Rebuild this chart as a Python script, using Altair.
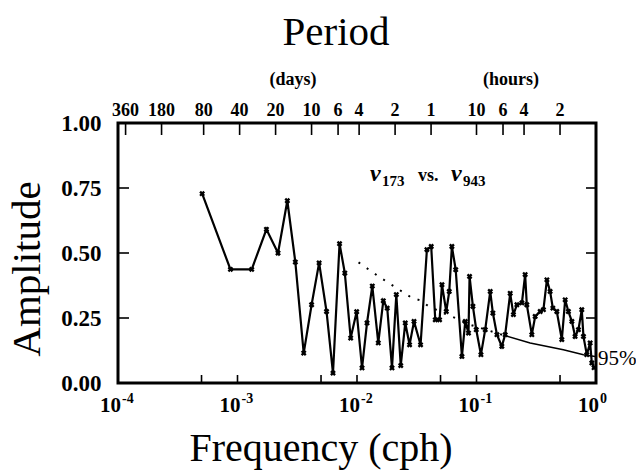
import altair as alt
import pandas as pd

# ---------------- data ----------------
freq = [5.06e-4, 8.73e-4, 1.315e-3, 1.746e-3, 2.183e-3, 2.612e-3, 3.048e-3, 3.581e-3,
        4.169e-3, 4.819e-3, 5.559e-3, 6.295e-3, 7.145e-3, 7.907e-3, 8.851e-3, 9.931e-3,
        0.01102, 0.01213, 0.01343, 0.01507, 0.01660, 0.01791, 0.01963, 0.02133,
        0.02323, 0.02535, 0.02754, 0.02999, 0.03404, 0.03846, 0.04178, 0.04519,
        0.04909, 0.05140, 0.05585, 0.05916, 0.06223, 0.06699, 0.07551, 0.08054,
        0.08570, 0.08750, 0.09333, 0.09954, 0.1089, 0.1183, 0.1303, 0.1371,
        0.1483, 0.1629, 0.1738, 0.1914, 0.2037, 0.2178, 0.2399, 0.2553,
        0.2636, 0.2904, 0.3097, 0.3412, 0.3631, 0.3882, 0.4130, 0.4355,
        0.4699, 0.5176, 0.5521, 0.5875, 0.6281, 0.6683, 0.7129, 0.7603,
        0.7852, 0.8375, 0.8933, 0.9226, 0.9638]
amp = [0.728, 0.437, 0.437, 0.591, 0.500, 0.701, 0.465, 0.115,
       0.301, 0.462, 0.275, 0.038, 0.536, 0.423, 0.173, 0.274,
       0.058, 0.231, 0.373, 0.154, 0.316, 0.288, 0.058, 0.340,
       0.067, 0.231, 0.147, 0.237, 0.147, 0.513, 0.525, 0.243,
       0.243, 0.378, 0.275, 0.352, 0.525, 0.436, 0.102, 0.237,
       0.192, 0.410, 0.295, 0.205, 0.109, 0.205, 0.352, 0.269,
       0.186, 0.141, 0.186, 0.345, 0.263, 0.301, 0.308, 0.417,
       0.301, 0.186, 0.256, 0.275, 0.282, 0.397, 0.352, 0.288,
       0.275, 0.167, 0.320, 0.275, 0.237, 0.179, 0.205, 0.282,
       0.179, 0.109, 0.154, 0.077, 0.059]

# 95% significance level
sig_freq_dotted = [0.01030, 0.01517, 0.01837, 0.02377, 0.02884, 0.03381, 0.03972,
                   0.05649, 0.06637, 0.08851, 0.1074, 0.1738]
sig_amp_dotted = [0.464, 0.410, 0.385, 0.352, 0.327, 0.318, 0.295,
                  0.263, 0.250, 0.224, 0.212, 0.182]
sig_freq_solid = [0.1738, 0.2812, 0.5333, 0.7852, 0.9840]
sig_amp_solid = [0.182, 0.154, 0.128, 0.109, 0.102]

# top (period) axis
top_period = [360, 180, 80, 40, 20, 10, 6, 4, 2, 1, 10, 6, 4, 2]
top_hours_per_unit = [24, 24, 24, 24, 24, 24, 24, 24, 24, 24, 1, 1, 1, 1]
top_label = ["360", "180", "80", "40", "20", "10", "6", "4", "2", "1", "10", "6", "4", "2"]

# bottom axis
bottom_minor = [5e-4, 1e-3, 5e-3, 1e-2, 5e-2, 1e-1, 5e-1]
decade_freq = [1e-4, 1e-3, 1e-2, 1e-1, 1.0]
decade_exp = ["-4", "-3", "-2", "-1", "0"]

y_inner_ticks = [0.25, 0.5, 0.75]
y_labels = [0, 0.25, 0.5, 0.75, 1.0]

# ---------------- layout ----------------
W, H = 478, 260
FONT = "Liberation Serif"

xs = alt.Scale(type="log", domain=[1e-4, 1], nice=False)
ys = alt.Scale(domain=[0, 1], nice=False)
X = alt.X("f:Q", scale=xs, axis=None)
yaxis = alt.Axis(values=y_labels, format=".2f", ticks=False, domain=False, grid=False,
                 labelFont=FONT, labelFontSize=23, labelFontWeight="bold",
                 labelPadding=17, labelColor="black", title=None)
Y = alt.Y("a:Q", scale=ys, axis=yaxis)

df = pd.DataFrame({"f": freq, "a": amp})
line = alt.Chart(df).mark_line(color="black", strokeWidth=2.2).encode(x=X, y=Y)
pts = alt.Chart(df).mark_point(shape="cross", angle=45, size=34, filled=True,
                               color="black", opacity=1).encode(x=X, y=Y)

sig_d = pd.DataFrame({"f": sig_freq_dotted, "a": sig_amp_dotted})
sig_s = pd.DataFrame({"f": sig_freq_solid, "a": sig_amp_solid})
sig_dot = alt.Chart(sig_d).mark_line(color="black", strokeWidth=2,
                                     strokeDash=[2, 8]).encode(x=X, y=Y)
sig_sol = alt.Chart(sig_s).mark_line(color="black", strokeWidth=1.5).encode(x=X, y=Y)

yt = pd.DataFrame({"a": y_inner_ticks})
left_ticks = alt.Chart(yt).mark_rule(color="black", strokeWidth=1.6).encode(
    y=Y, x=alt.value(0), x2=alt.value(11))
right_ticks = alt.Chart(yt).mark_rule(color="black", strokeWidth=1.6).encode(
    y=Y, x=alt.value(W - 10), x2=alt.value(W))

top_df = pd.DataFrame({"p": top_period, "u": top_hours_per_unit, "lab": top_label})
top_df["f"] = 1.0 / (top_df["p"] * top_df["u"])
top_ticks = alt.Chart(top_df).mark_rule(color="black", strokeWidth=1.6).encode(
    x=X, y=alt.value(0), y2=alt.value(12))
top_text = alt.Chart(top_df).mark_text(font=FONT, fontSize=18, fontWeight="bold",
                                       baseline="alphabetic", align="center",
                                       color="black").encode(
    x=X, y=alt.value(-7), text="lab:N")

bm = pd.DataFrame({"f": bottom_minor})
bottom_ticks = alt.Chart(bm).mark_rule(color="black", strokeWidth=1.6).encode(
    x=X, y=alt.value(H - 8), y2=alt.value(H))

dec = pd.DataFrame({"f": decade_freq, "e": decade_exp, "b": ["10"] * 5})
dec_base = alt.Chart(dec).mark_text(font=FONT, fontSize=21, fontWeight="bold",
                                    align="right", baseline="alphabetic", dx=3,
                                    color="black").encode(
    x=X, y=alt.value(H + 29), text="b:N")
dec_exp = alt.Chart(dec).mark_text(font=FONT, fontSize=14, fontWeight="bold",
                                   align="left", baseline="alphabetic", dx=4,
                                   color="black").encode(
    x=X, y=alt.value(H + 20), text="e:N")


def label(txt, x, y, size, weight="normal", style="normal", align="center",
          baseline="alphabetic", angle=0):
    return alt.Chart(pd.DataFrame({"t": [txt]})).mark_text(
        font=FONT, fontSize=size, fontWeight=weight, fontStyle=style, align=align,
        baseline=baseline, angle=angle, color="black").encode(
        x=alt.value(x), y=alt.value(y), text="t:N")


texts = [
    label("Period", 218, -78, 41),
    label("(days)", 175, -38, 18, weight="bold"),
    label("(hours)", 393, -38, 18, weight="bold"),
    label("Frequency (cph)", 203, 338, 40),
    label("Amplitude", -90, 146, 41, baseline="middle", angle=270),
    label("95%", 480, 242, 21, align="left"),
    label("ν", 252, 58, 24, weight="bold", style="italic", align="left"),
    label("173", 264, 63, 15, weight="bold", align="left"),
    label("vs.", 300, 58, 18, weight="bold", align="left"),
    label("ν", 333, 58, 24, weight="bold", style="italic", align="left"),
    label("943", 345, 63, 15, weight="bold", align="left"),
]

chart = alt.layer(
    sig_dot, sig_sol, line, pts, left_ticks, right_ticks, top_ticks, top_text,
    bottom_ticks, dec_base, dec_exp, *texts
).properties(
    width=W, height=H,
    autosize=alt.AutoSizeParams(type="none"),
    padding={"left": 118, "top": 123, "right": 40, "bottom": 90},
    background="white",
).configure_view(stroke="black", strokeWidth=3)

chart.save("out.html", embed_options={"renderer": "svg", "actions": False})
